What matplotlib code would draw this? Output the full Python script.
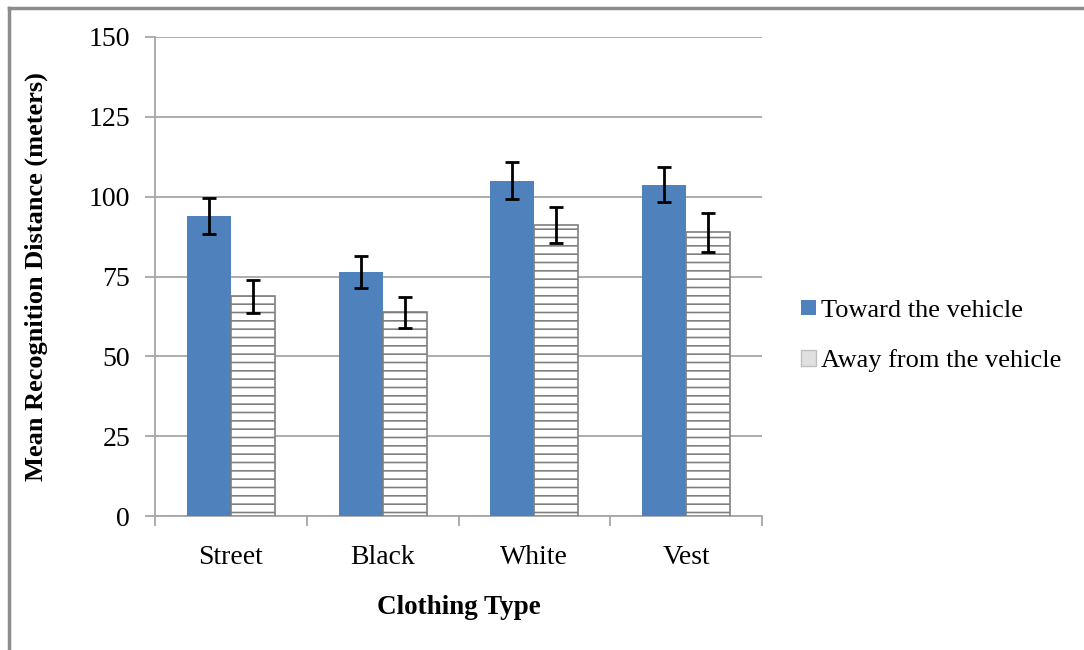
import matplotlib
matplotlib.use("Agg")
import matplotlib.pyplot as plt
import numpy as np
from matplotlib.patches import Patch
from matplotlib.lines import Line2D

categories = ["Street", "Black", "White", "Vest"]
toward = [94.0, 76.4, 105.0, 103.8]
toward_err = [5.6, 5.0, 5.8, 5.6]
away = [68.8, 63.8, 91.2, 88.8]
away_err = [5.2, 4.8, 5.6, 6.2]
series_names = ["Toward the vehicle", "Away from the vehicle"]
yticks = [0, 25, 50, 75, 100, 125, 150]

plt.rcParams['font.family'] = ['Liberation Serif', 'DejaVu Serif']
plt.rcParams['hatch.color'] = '#6d6d6d'
plt.rcParams['hatch.linewidth'] = 1.2

fig = plt.figure(figsize=(10.84, 6.5), dpi=100)
ax = fig.add_axes([155/1084, 1-516/650, (762-155)/1084, (516-37)/650])

x = np.arange(len(categories))
w = 0.29
ax.bar(x - w/2, toward, w, color='#4F81BD', edgecolor='none', zorder=3)
ax.bar(x + w/2, away, w, color='white', edgecolor='#7f7f7f', linewidth=1.2,
       hatch='--', zorder=3)
ax.errorbar(x - w/2, toward, yerr=toward_err, fmt='none', ecolor='black',
            elinewidth=2, capsize=5, capthick=2, zorder=4)
ax.errorbar(x + w/2, away, yerr=away_err, fmt='none', ecolor='black',
            elinewidth=2, capsize=5, capthick=2, zorder=4)

ax.set_xlim(-0.5, 3.5)
ax.set_ylim(0, 150)
ax.set_yticks(yticks)
ax.set_yticklabels([str(v) for v in yticks], fontsize=20)
ax.yaxis.grid(True, color='#a6a6a6', linewidth=1.3, zorder=0)
ax.set_axisbelow(True)

ax.set_xticks(x)
ax.set_xticklabels(categories, fontsize=20)
ax.set_xticks(np.arange(-0.5, 4, 1), minor=True)
ax.tick_params(axis='x', which='major', length=0, pad=21)
ax.tick_params(axis='x', which='minor', length=7, color='#a6a6a6', width=1.3)
ax.tick_params(axis='y', length=7, color='#a6a6a6', width=1.3, pad=11)

for s in ['top', 'right']:
    ax.spines[s].set_visible(False)
for s in ['left', 'bottom']:
    ax.spines[s].set_color('#a6a6a6')
    ax.spines[s].set_linewidth(1.3)

ax.set_ylabel("Mean Recognition Distance (meters)", fontsize=19, fontweight='bold')
ax.yaxis.set_label_coords((36-155)/607, 0.5)
ax.set_xlabel("Clothing Type", fontsize=19.5, fontweight='bold')
ax.xaxis.set_label_coords(0.5, -(608-516)/479)
ax.xaxis.label.set_va('center')
ax.yaxis.label.set_va('center')

handles = [Patch(facecolor='#4F81BD', edgecolor='none'),
           Patch(facecolor='#e0e0e0', edgecolor='#bfbfbf')]
fig.legend(handles, series_names, loc='center left', bbox_to_anchor=(788/1084, 1-336/650),
           frameon=False, fontsize=19, handlelength=0.55, handleheight=0.55,
           handletextpad=0.2, labelspacing=1.05, borderpad=0)

# outer frame
fig.add_artist(Line2D([9/1084, 9/1084], [0, 1-8/650], color='#8c8c8c', linewidth=2.5, transform=fig.transFigure))
fig.add_artist(Line2D([9/1084, 1.0], [1-8/650, 1-8/650], color='#8c8c8c', linewidth=2.5, transform=fig.transFigure))

fig.savefig("out.png", dpi=100)
